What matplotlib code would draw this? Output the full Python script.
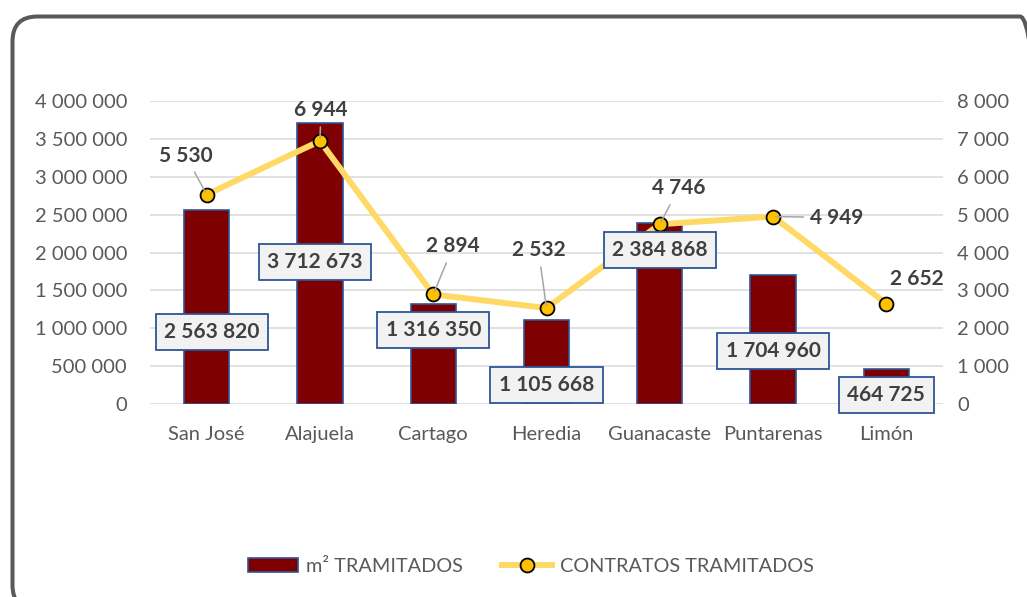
import matplotlib
matplotlib.use("Agg")
from matplotlib import pyplot as plt
from matplotlib.patches import FancyBboxPatch
from matplotlib.transforms import IdentityTransform

plt.rcParams['font.family'] = ['Lato', 'DejaVu Sans']

categories = ['San José', 'Alajuela', 'Cartago', 'Heredia', 'Guanacaste', 'Puntarenas', 'Limón']
m2_tramitados = [2563820, 3712673, 1316350, 1105668, 2384868, 1704960, 464725]
contratos = [5530, 6944, 2894, 2532, 4746, 4949, 2652]
left_ticks = [0, 500000, 1000000, 1500000, 2000000, 2500000, 3000000, 3500000, 4000000]
right_ticks = [0, 1000, 2000, 3000, 4000, 5000, 6000, 7000, 8000]

# label placement (bar labels: y in left-axis units, x shift in px; line labels: px offsets)
bar_label_y = [950000, 1875000, 977000, 251000, 2033000, 700000, 119000]
bar_label_dx = [5, -5, 0, 0, 0, 0, 0]
line_label_off = [(-21, 39), (1, 31), (20, 48), (-8, 58), (19, 36), (64, -1), (31, 25)]
line_leader = [True, True, True, True, True, True, False]


def fmt(v):
    return f"{v:,}".replace(",", " ")


fig = plt.figure(figsize=(10.27, 5.97), dpi=100)
ax = fig.add_axes([150 / 1027, 193 / 597, 793 / 1027, 303 / 597])
ax2 = ax.twinx()

x = list(range(len(categories)))
bars = ax.bar(x, m2_tramitados, width=0.4, color='#7F0000', edgecolor='#2F5597',
              linewidth=1.2, label='m² TRAMITADOS', zorder=2)
line, = ax2.plot(x, contratos, color='#FFD966', lw=4.3, marker='o', markersize=10,
                 markerfacecolor='#FFC000', markeredgecolor='black', markeredgewidth=1.3,
                 label='CONTRATOS TRAMITADOS', zorder=3)

ax.set_xlim(-0.5, len(categories) - 0.5)
ax.set_ylim(0, 4000000)
ax2.set_ylim(0, 8000)
ax.set_yticks(left_ticks)
ax.set_yticklabels([fmt(v) for v in left_ticks])
ax2.set_yticks(right_ticks)
ax2.set_yticklabels([fmt(v) for v in right_ticks])
ax.set_xticks(x)
ax.set_xticklabels(categories)

for a in (ax, ax2):
    for s in a.spines.values():
        s.set_visible(False)
ax.tick_params(axis='y', length=0, pad=16.5, labelsize=14.5, labelcolor='#595959')
ax2.tick_params(axis='y', length=0, pad=10, labelsize=14.5, labelcolor='#595959')
ax.tick_params(axis='x', length=0, pad=16, labelsize=14.5, labelcolor='#595959')
ax.yaxis.grid(True, color='#D9D9D9', lw=1.1, zorder=0)
ax.set_axisbelow(True)

# bar value labels (drawn on top axes so they sit above the line)
for i, v in enumerate(m2_tramitados):
    ax2.annotate(fmt(v), xy=(i, bar_label_y[i]), xycoords=ax.transData,
                 xytext=(bar_label_dx[i], 0), textcoords='offset pixels',
                 ha='center', va='center', fontsize=15, fontweight='bold', color='#404040',
                 bbox=dict(boxstyle='square,pad=0.4', fc='#F2F2F2', ec='#2F5597', lw=1.3),
                 zorder=5)

# line value labels
for i, v in enumerate(contratos):
    props = None
    if line_leader[i]:
        props = dict(arrowstyle='-', color='#A6A6A6', lw=1.1, shrinkA=3, shrinkB=2)
    ax2.annotate(fmt(v), xy=(i, v), xytext=line_label_off[i], textcoords='offset pixels',
                 ha='center', va='center', fontsize=15, fontweight='bold', color='#404040',
                 arrowprops=props, zorder=6)

fig.legend(handles=[bars, line], loc='center', bbox_to_anchor=(531 / 1027, 1 - 566 / 597),
           ncol=2, frameon=False, fontsize=14.3, labelcolor='#595959',
           handlelength=2.5, handletextpad=0.4, columnspacing=2.0)

# rounded chart border
border = FancyBboxPatch((12.5, -13), 1045 - 12.5, 580.5 + 13,
                        boxstyle='round,pad=0,rounding_size=25',
                        fc='none', ec='#595959', lw=2.9, transform=IdentityTransform())
fig.add_artist(border)

fig.savefig('out.png', dpi=100)
